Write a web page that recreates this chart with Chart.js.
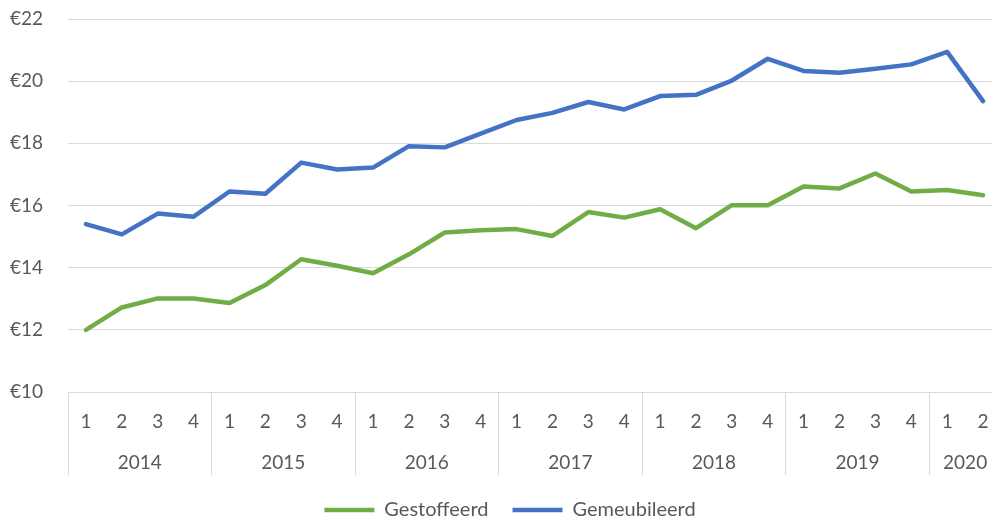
<!DOCTYPE html>
<html>
<head>
<meta charset="utf-8">
<script src="https://cdn.jsdelivr.net/npm/chart.js@4/dist/chart.umd.min.js"></script>
<style>
html,body{margin:0;padding:0;background:#fff;overflow:hidden;width:992px;height:519px;}
#wrap{position:absolute;left:0;top:0;width:1020px;height:519px;}
</style>
</head>
<body>
<div id="wrap"><canvas id="c"></canvas></div>
<script>
const periodYear = ['2014','2014','2014','2014','2015','2015','2015','2015','2016','2016','2016','2016','2017','2017','2017','2017','2018','2018','2018','2018','2019','2019','2019','2019','2020','2020'];
const periodQuarter = ['1','2','3','4','1','2','3','4','1','2','3','4','1','2','3','4','1','2','3','4','1','2','3','4','1','2'];
const yTickValues = [10,12,14,16,18,20,22];
const gestoffeerd = [12.00,12.72,13.01,13.01,12.86,13.44,14.27,14.06,13.82,14.43,15.13,15.20,15.24,15.02,15.79,15.61,15.88,15.27,16.01,16.01,16.61,16.55,17.03,16.45,16.50,16.33];
const gemeubileerd = [15.40,15.07,15.74,15.64,16.45,16.38,17.38,17.16,17.22,17.91,17.87,18.31,18.75,18.98,19.33,19.09,19.52,19.56,20.02,20.72,20.33,20.27,20.40,20.54,20.94,19.36];
const seriesNames = ['Gestoffeerd','Gemeubileerd'];

const FONT = 'Lato, "Liberation Sans", sans-serif';
const TEXT = '#595959';
const GRID = '#D9D9D9';
const NONE = 'rgba(0,0,0,0)';
const GREEN = '#70AD47';
const BLUE = '#4472C4';

// year groups derived from the period arrays
const groups = [];
periodYear.forEach((y, i) => {
  const g = groups[groups.length - 1];
  if (g && g.year === y) g.end = i; else groups.push({year: y, start: i, end: i});
});
function yearTicks() {
  const t = [];
  groups.forEach(g => {
    t.push({value: g.start - 0.5, divider: true});
    t.push({value: (g.start + g.end) / 2, year: g.year});
  });
  t.push({value: periodYear.length - 0.5, divider: true});
  return t;
}

new Chart(document.getElementById('c'), {
  type: 'line',
  data: {
    labels: periodQuarter,
    datasets: [
      {label: seriesNames[0], data: gestoffeerd, borderColor: GREEN, backgroundColor: GREEN,
       borderWidth: 4.5, pointRadius: 0, tension: 0, borderCapStyle: 'round', borderJoinStyle: 'round', xAxisID: 'x', yAxisID: 'y'},
      {label: seriesNames[1], data: gemeubileerd, borderColor: BLUE, backgroundColor: BLUE,
       borderWidth: 4.5, pointRadius: 0, tension: 0, borderCapStyle: 'round', borderJoinStyle: 'round', xAxisID: 'x', yAxisID: 'y'}
    ]
  },
  options: {
    responsive: true,
    maintainAspectRatio: false,
    animation: false,
    events: [],
    layout: {padding: {left: 0, right: 0, top: 19, bottom: -11}},
    plugins: {
      tooltip: {enabled: false},
      legend: {
        position: 'bottom',
        labels: {
          usePointStyle: true, pointStyle: 'line', pointStyleWidth: 50,
          font: {family: FONT, size: 20}, color: TEXT, padding: 24
        }
      }
    },
    scales: {
      y: {
        min: 10, max: 22,
        afterBuildTicks: s => { s.ticks = yTickValues.map(v => ({value: v})); },
        afterFit: s => { s.width = 68; s.paddingTop = 11; s.paddingBottom = 11; },
        ticks: {padding: 25, font: {family: FONT, size: 19}, color: TEXT, callback: v => '€' + v},
        grid: {color: GRID, lineWidth: 1, drawTicks: false},
        border: {display: false}
      },
      yRight: {
        position: 'right', display: true,
        afterFit: s => { s.width = 19; s.paddingTop = 0; s.paddingBottom = 0; },
        ticks: {display: false},
        grid: {display: false},
        border: {display: false}
      },
      x: {
        type: 'category', position: 'bottom', weight: 0, offset: true,
        afterFit: s => { s.height = 46; },
        ticks: {autoSkip: false, maxRotation: 0, minRotation: 0, padding: -28, font: {family: FONT, size: 19}, color: TEXT},
        grid: {
          offset: true, drawOnChartArea: false, drawTicks: true, tickLength: 46, lineWidth: 1,
          color: ctx => (ctx.index >= periodYear.length || periodYear[ctx.index] !== periodYear[ctx.index - 1]) ? GRID : NONE
        },
        border: {display: true, color: GRID, width: 1}
      },
      x2: {
        type: 'linear', position: 'bottom', weight: 1,
        min: -0.5, max: periodYear.length - 0.5,
        afterBuildTicks: s => { s.ticks = yearTicks(); },
        afterFit: s => { s.height = 38; },
        ticks: {autoSkip: false, maxRotation: 0, minRotation: 0, padding: -24, font: {family: FONT, size: 19}, color: TEXT,
          callback: (v, i, t) => (t[i] && t[i].year) ? t[i].year : ''},
        grid: {
          drawOnChartArea: false, drawTicks: true, tickLength: 37, lineWidth: 1,
          color: ctx => (ctx.tick && ctx.tick.divider) ? GRID : NONE
        },
        border: {display: false}
      }
    }
  }
});
</script>
</body>
</html>
